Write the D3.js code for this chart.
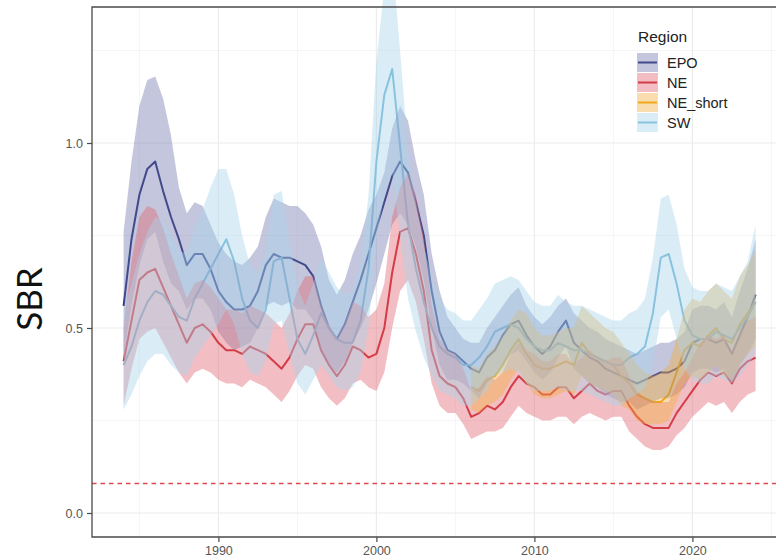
<!DOCTYPE html>
<html>
<head>
<meta charset="utf-8">
<script src="https://cdn.jsdelivr.net/npm/d3@7"></script>
<style>
  html, body { margin: 0; padding: 0; background: #ffffff; }
  svg { display: block; }
</style>
</head>
<body>
<svg id="chart" width="776" height="560"></svg>
<script>
// Half-yearly time steps of the SBR series
const years = [
  1984, 1984.5, 1985, 1985.5, 1986, 1986.5, 1987, 1987.5, 1988, 1988.5,
  1989, 1989.5, 1990, 1990.5, 1991, 1991.5, 1992, 1992.5, 1993, 1993.5,
  1994, 1994.5, 1995, 1995.5, 1996, 1996.5, 1997, 1997.5, 1998, 1998.5,
  1999, 1999.5, 2000, 2000.5, 2001, 2001.5, 2002, 2002.5, 2003, 2003.5,
  2004, 2004.5, 2005, 2005.5, 2006, 2006.5, 2007, 2007.5, 2008, 2008.5,
  2009, 2009.5, 2010, 2010.5, 2011, 2011.5, 2012, 2012.5, 2013, 2013.5,
  2014, 2014.5, 2015, 2015.5, 2016, 2016.5, 2017, 2017.5, 2018, 2018.5,
  2019, 2019.5, 2020, 2020.5, 2021, 2021.5, 2022, 2022.5, 2023, 2023.5,
  2024
];
const shortYears = [
  2006, 2006.5, 2007, 2007.5, 2008, 2008.5, 2009, 2009.5, 2010, 2010.5,
  2011, 2011.5, 2012, 2012.5, 2013, 2013.5, 2014, 2014.5, 2015, 2015.5,
  2016, 2016.5, 2017, 2017.5, 2018, 2018.5, 2019, 2019.5, 2020, 2020.5,
  2021, 2021.5, 2022, 2022.5, 2023, 2023.5, 2024
];

const regions = ["EPO", "NE", "NE_short", "SW"];

const epoMean = [
  0.56, 0.74, 0.86, 0.93, 0.95, 0.87, 0.80, 0.74, 0.67, 0.70,
  0.70, 0.66, 0.60, 0.57, 0.55, 0.55, 0.56, 0.60, 0.67, 0.70,
  0.69, 0.69, 0.68, 0.67, 0.64, 0.56, 0.50, 0.47, 0.51, 0.57,
  0.63, 0.70, 0.77, 0.84, 0.91, 0.95, 0.92, 0.84, 0.75, 0.60,
  0.49, 0.44, 0.43, 0.41, 0.39, 0.38, 0.42, 0.44, 0.48, 0.51,
  0.52, 0.48, 0.45, 0.43, 0.45, 0.49, 0.52, 0.46, 0.44, 0.42,
  0.41, 0.39, 0.38, 0.37, 0.36, 0.35, 0.36, 0.37, 0.38, 0.38,
  0.39, 0.41, 0.46, 0.47, 0.47, 0.46, 0.47, 0.43, 0.48, 0.53,
  0.59
];
const epoHigh = [
  0.76, 0.95, 1.10, 1.17, 1.18, 1.12, 1.02, 0.88, 0.81, 0.84,
  0.83, 0.78, 0.73, 0.70, 0.68, 0.67, 0.69, 0.72, 0.80, 0.85,
  0.84, 0.83, 0.83, 0.81, 0.78, 0.72, 0.63, 0.59, 0.63, 0.70,
  0.75, 0.82, 0.86, 0.92, 1.04, 1.10, 1.06, 0.95, 0.86, 0.70,
  0.60, 0.53, 0.50, 0.47, 0.46, 0.46, 0.50, 0.53, 0.56, 0.59,
  0.61, 0.56, 0.53, 0.51, 0.53, 0.56, 0.58, 0.54, 0.52, 0.50,
  0.49, 0.47, 0.46, 0.45, 0.44, 0.43, 0.44, 0.45, 0.46, 0.46,
  0.47, 0.49, 0.55, 0.56, 0.56, 0.55, 0.57, 0.53, 0.60, 0.66,
  0.74
];
const epoLow = [
  0.42, 0.56, 0.67, 0.74, 0.76, 0.68, 0.62, 0.60, 0.55, 0.58,
  0.58, 0.55, 0.49, 0.46, 0.44, 0.45, 0.46, 0.50, 0.56, 0.57,
  0.56, 0.57, 0.55, 0.55, 0.52, 0.44, 0.40, 0.38, 0.41, 0.46,
  0.50, 0.55, 0.62, 0.70, 0.78, 0.81, 0.78, 0.72, 0.63, 0.50,
  0.40, 0.36, 0.36, 0.35, 0.33, 0.31, 0.35, 0.37, 0.40, 0.43,
  0.44, 0.41, 0.38, 0.36, 0.38, 0.42, 0.45, 0.39, 0.37, 0.35,
  0.34, 0.32, 0.31, 0.30, 0.30, 0.28, 0.29, 0.30, 0.31, 0.31,
  0.32, 0.34, 0.38, 0.39, 0.39, 0.38, 0.39, 0.35, 0.40, 0.43,
  0.47
];

const neMean = [
  0.41, 0.52, 0.63, 0.65, 0.66, 0.61, 0.56, 0.51, 0.46, 0.50,
  0.51, 0.49, 0.46, 0.44, 0.44, 0.43, 0.45, 0.44, 0.43, 0.41,
  0.39, 0.42, 0.47, 0.51, 0.51, 0.44, 0.40, 0.37, 0.40, 0.45,
  0.44, 0.42, 0.43, 0.50, 0.65, 0.76, 0.77, 0.70, 0.60, 0.44,
  0.37, 0.35, 0.34, 0.31, 0.26, 0.27, 0.29, 0.28, 0.30, 0.34,
  0.37, 0.35, 0.34, 0.32, 0.32, 0.34, 0.34, 0.31, 0.33, 0.35,
  0.33, 0.32, 0.33, 0.33, 0.29, 0.26, 0.24, 0.23, 0.23, 0.23,
  0.27, 0.30, 0.33, 0.36, 0.38, 0.37, 0.38, 0.35, 0.39, 0.41,
  0.42
];
const neHigh = [
  0.50, 0.68, 0.80, 0.83, 0.82, 0.77, 0.70, 0.64, 0.58, 0.62,
  0.63, 0.61, 0.58, 0.55, 0.55, 0.54, 0.56, 0.55, 0.54, 0.52,
  0.50, 0.54, 0.60, 0.64, 0.64, 0.56, 0.51, 0.47, 0.51, 0.57,
  0.56, 0.53, 0.55, 0.62, 0.80, 0.88, 0.92, 0.86, 0.74, 0.56,
  0.47, 0.44, 0.43, 0.39, 0.33, 0.34, 0.37, 0.36, 0.38, 0.43,
  0.46, 0.44, 0.43, 0.41, 0.41, 0.43, 0.43, 0.40, 0.42, 0.44,
  0.42, 0.41, 0.42, 0.42, 0.37, 0.33, 0.31, 0.30, 0.30, 0.30,
  0.35, 0.38, 0.42, 0.46, 0.48, 0.47, 0.48, 0.44, 0.49, 0.52,
  0.53
];
const neLow = [
  0.29, 0.39, 0.47, 0.49, 0.50, 0.46, 0.42, 0.38, 0.35, 0.38,
  0.39, 0.38, 0.36, 0.35, 0.35, 0.34, 0.36, 0.35, 0.34, 0.32,
  0.30, 0.33, 0.37, 0.40, 0.39, 0.34, 0.31, 0.29, 0.31, 0.35,
  0.36, 0.34, 0.33, 0.38, 0.50, 0.60, 0.63, 0.57, 0.47, 0.35,
  0.29, 0.27, 0.27, 0.24, 0.20, 0.21, 0.22, 0.22, 0.23, 0.26,
  0.29, 0.27, 0.26, 0.25, 0.25, 0.26, 0.26, 0.24, 0.26, 0.27,
  0.26, 0.25, 0.26, 0.26, 0.22, 0.20, 0.18, 0.17, 0.17, 0.18,
  0.21, 0.23, 0.26, 0.28, 0.30, 0.29, 0.30, 0.27, 0.30, 0.32,
  0.33
];

const neShortMean = [
  0.34, 0.33, 0.36, 0.37, 0.40, 0.44, 0.47, 0.43, 0.40, 0.39,
  0.39, 0.40, 0.41, 0.40, 0.46, 0.43, 0.42, 0.41, 0.40, 0.37,
  0.35, 0.32, 0.31, 0.30, 0.30, 0.32, 0.38, 0.44, 0.46, 0.45,
  0.48, 0.50, 0.47, 0.46, 0.51, 0.54, 0.57
];
const neShortHigh = [
  0.40, 0.39, 0.43, 0.45, 0.48, 0.52, 0.55, 0.54, 0.50, 0.48,
  0.48, 0.49, 0.50, 0.50, 0.56, 0.54, 0.52, 0.50, 0.49, 0.46,
  0.43, 0.40, 0.38, 0.37, 0.38, 0.40, 0.47, 0.55, 0.58, 0.57,
  0.60, 0.62, 0.60, 0.58, 0.64, 0.67, 0.71
];
const neShortLow = [
  0.28, 0.27, 0.29, 0.30, 0.32, 0.36, 0.39, 0.35, 0.32, 0.31,
  0.31, 0.32, 0.33, 0.32, 0.37, 0.35, 0.34, 0.33, 0.32, 0.29,
  0.28, 0.25, 0.24, 0.24, 0.24, 0.25, 0.30, 0.35, 0.37, 0.36,
  0.38, 0.40, 0.37, 0.36, 0.40, 0.43, 0.45
];

const swMean = [
  0.40, 0.45, 0.52, 0.57, 0.60, 0.59, 0.56, 0.53, 0.52, 0.58,
  0.62, 0.66, 0.70, 0.74, 0.68, 0.58, 0.52, 0.50, 0.55, 0.68,
  0.69, 0.58, 0.47, 0.43, 0.48, 0.54, 0.50, 0.47, 0.46, 0.46,
  0.52, 0.66, 0.95, 1.13, 1.20, 0.99, 0.78, 0.66, 0.57, 0.50,
  0.45, 0.43, 0.42, 0.40, 0.40, 0.42, 0.45, 0.49, 0.50, 0.51,
  0.50, 0.47, 0.45, 0.44, 0.44, 0.46, 0.45, 0.44, 0.44, 0.43,
  0.42, 0.41, 0.40, 0.40, 0.42, 0.43, 0.45, 0.54, 0.69, 0.70,
  0.62, 0.52, 0.48, 0.47, 0.47, 0.49, 0.48, 0.47, 0.50, 0.53,
  0.57
];
const swHigh = [
  0.55, 0.62, 0.70, 0.76, 0.80, 0.79, 0.75, 0.71, 0.70, 0.77,
  0.82, 0.88, 0.93, 0.93, 0.86, 0.75, 0.67, 0.65, 0.71, 0.86,
  0.87, 0.74, 0.61, 0.56, 0.62, 0.69, 0.65, 0.61, 0.59, 0.60,
  0.67, 0.86, 1.22, 1.42, 1.50, 1.25, 0.98, 0.84, 0.72, 0.64,
  0.58, 0.55, 0.54, 0.52, 0.52, 0.55, 0.58, 0.62, 0.63, 0.64,
  0.63, 0.60, 0.57, 0.56, 0.56, 0.59, 0.57, 0.56, 0.56, 0.55,
  0.54, 0.53, 0.52, 0.52, 0.54, 0.55, 0.58, 0.69, 0.85, 0.86,
  0.78, 0.66, 0.61, 0.60, 0.60, 0.62, 0.61, 0.60, 0.64, 0.68,
  0.78
];
const swLow = [
  0.28, 0.32, 0.37, 0.41, 0.43, 0.43, 0.40, 0.38, 0.37, 0.42,
  0.45, 0.48, 0.51, 0.55, 0.51, 0.43, 0.38, 0.37, 0.41, 0.51,
  0.52, 0.43, 0.35, 0.32, 0.36, 0.40, 0.37, 0.34, 0.33, 0.34,
  0.38, 0.50, 0.74, 0.86, 0.92, 0.75, 0.58, 0.49, 0.42, 0.37,
  0.33, 0.32, 0.31, 0.29, 0.29, 0.31, 0.33, 0.37, 0.38, 0.39,
  0.38, 0.35, 0.33, 0.33, 0.33, 0.34, 0.33, 0.33, 0.33, 0.32,
  0.31, 0.30, 0.29, 0.29, 0.31, 0.32, 0.34, 0.40, 0.53, 0.55,
  0.47, 0.39, 0.36, 0.35, 0.35, 0.37, 0.36, 0.35, 0.37, 0.40,
  0.43
];

// Reference level drawn as a dashed line
const referenceLevel = 0.08;

const xTicks = [1990, 2000, 2010, 2020];
const xMinorTicks = [1985, 1995, 2005, 2015, 2025];
const yTicks = [0.0, 0.5, 1.0];
const yMinorTicks = [0.25, 0.75, 1.25];

// Assemble per-region records for the drawing code
const series = [
  { name: "EPO",      t: years,      mean: epoMean,     lo: epoLow,     hi: epoHigh },
  { name: "NE",       t: years,      mean: neMean,      lo: neLow,      hi: neHigh },
  { name: "NE_short", t: shortYears, mean: neShortMean, lo: neShortLow, hi: neShortHigh },
  { name: "SW",       t: years,      mean: swMean,      lo: swLow,      hi: swHigh }
].map(s => ({
  name: s.name,
  points: s.t.map((yr, i) => ({ yr, mean: s.mean[i], lo: s.lo[i], hi: s.hi[i] }))
}));

const lineColor = d3.scaleOrdinal().domain(regions)
  .range(["#1f2a72", "#cc1f28", "#f0a400", "#73b6d4"]);
const fillColor = d3.scaleOrdinal().domain(regions)
  .range(["#7276ad", "#e06470", "#f4ad3d", "#a6d3ec"]);
const fillOpacity = 0.42;

const panel = { left: 92, top: 7, bottom: 537 };

const x = d3.scaleLinear().domain([1982, 2026]).range([92, 787.2]);
const y = d3.scaleLinear().domain([0, 1]).range([513, 143]);

const svg = d3.select("#chart");
const W = 776;

// Panel background and grid
svg.append("rect").attr("x", 0).attr("y", 0).attr("width", W).attr("height", 560).attr("fill", "#ffffff");

const grid = svg.append("g");
grid.selectAll(".xminor").data(xMinorTicks).join("line")
  .attr("x1", d => x(d)).attr("x2", d => x(d))
  .attr("y1", panel.top).attr("y2", panel.bottom)
  .attr("stroke", "#f3f3f3").attr("stroke-width", 0.8);
grid.selectAll(".yminor").data(yMinorTicks).join("line")
  .attr("x1", panel.left).attr("x2", W)
  .attr("y1", d => y(d)).attr("y2", d => y(d))
  .attr("stroke", "#f3f3f3").attr("stroke-width", 0.8);
grid.selectAll(".xmajor").data(xTicks).join("line")
  .attr("x1", d => x(d)).attr("x2", d => x(d))
  .attr("y1", panel.top).attr("y2", panel.bottom)
  .attr("stroke", "#ececec").attr("stroke-width", 1.2);
grid.selectAll(".ymajor").data(yTicks).join("line")
  .attr("x1", panel.left).attr("x2", W)
  .attr("y1", d => y(d)).attr("y2", d => y(d))
  .attr("stroke", "#ececec").attr("stroke-width", 1.2);

// Mean lines first, translucent ribbons laid over them
const area = d3.area().x(d => x(d.yr)).y0(d => y(d.lo)).y1(d => y(d.hi));
const line = d3.line().x(d => x(d.yr)).y(d => y(d.mean));

const lines = svg.append("g");
series.forEach(s => {
  lines.append("path").datum(s.points)
    .attr("d", line)
    .attr("fill", "none")
    .attr("stroke", lineColor(s.name))
    .attr("stroke-width", 2)
    .attr("stroke-linejoin", "round");
});
const ribbons = svg.append("g");
series.forEach(s => {
  ribbons.append("path").datum(s.points)
    .attr("d", area)
    .attr("fill", fillColor(s.name))
    .attr("fill-opacity", fillOpacity);
});

// Dashed reference level
svg.append("line")
  .attr("x1", panel.left).attr("x2", W)
  .attr("y1", y(referenceLevel)).attr("y2", y(referenceLevel))
  .attr("stroke", "#e0474f").attr("stroke-width", 1.5)
  .attr("stroke-dasharray", "4.5,4");

// Panel border (left, top, bottom)
svg.append("path")
  .attr("d", `M${W},${panel.top}H${panel.left}V${panel.bottom}H${W}`)
  .attr("fill", "none").attr("stroke", "#4a4a4a").attr("stroke-width", 1.3);

// Axes
const xAxis = d3.axisBottom(x).tickValues(xTicks).tickFormat(d3.format("d"))
  .tickSize(5).tickPadding(4);
const gx = svg.append("g").attr("transform", `translate(0,${panel.bottom})`).call(xAxis);
gx.select(".domain").remove();

const yAxis = d3.axisLeft(y).tickValues(yTicks).tickFormat(d3.format(".1f"))
  .tickSize(5).tickPadding(4);
const gy = svg.append("g").attr("transform", `translate(${panel.left},0)`).call(yAxis);
gy.select(".domain").remove();

[gx, gy].forEach(g => {
  g.selectAll(".tick line").attr("stroke", "#4a4a4a").attr("stroke-width", 1.2);
  g.selectAll(".tick text")
    .attr("fill", "#555555")
    .style("font-family", "'Liberation Sans', Arial, sans-serif")
    .style("font-size", "12.5px");
});

// Y axis title
svg.append("text")
  .attr("transform", "translate(42,299) rotate(-90)")
  .attr("text-anchor", "middle")
  .style("font-family", "Lato, 'Open Sans', sans-serif")
  .style("font-size", "35px")
  .attr("fill", "#111111")
  .text("SBR");

// Legend
const legend = svg.append("g").attr("transform", "translate(637,0)");
legend.append("text")
  .attr("x", 1).attr("y", 42)
  .style("font-family", "'Liberation Sans', Arial, sans-serif")
  .style("font-size", "15.5px")
  .attr("fill", "#222222")
  .text("Region");

const rows = legend.selectAll(".row").data(regions).join("g")
  .attr("transform", (d, i) => `translate(0,${53 + i * 20})`);
rows.append("line")
  .attr("x1", 1).attr("x2", 20).attr("y1", 9.5).attr("y2", 9.5)
  .attr("stroke", d => lineColor(d)).attr("stroke-width", 2);
rows.append("rect")
  .attr("width", 21).attr("height", 19)
  .attr("fill", d => fillColor(d)).attr("fill-opacity", fillOpacity);
rows.append("text")
  .attr("x", 30).attr("y", 10).attr("dy", "0.36em")
  .style("font-family", "'Liberation Sans', Arial, sans-serif")
  .style("font-size", "14.5px")
  .attr("fill", "#222222")
  .text(d => d);
</script>
</body>
</html>
